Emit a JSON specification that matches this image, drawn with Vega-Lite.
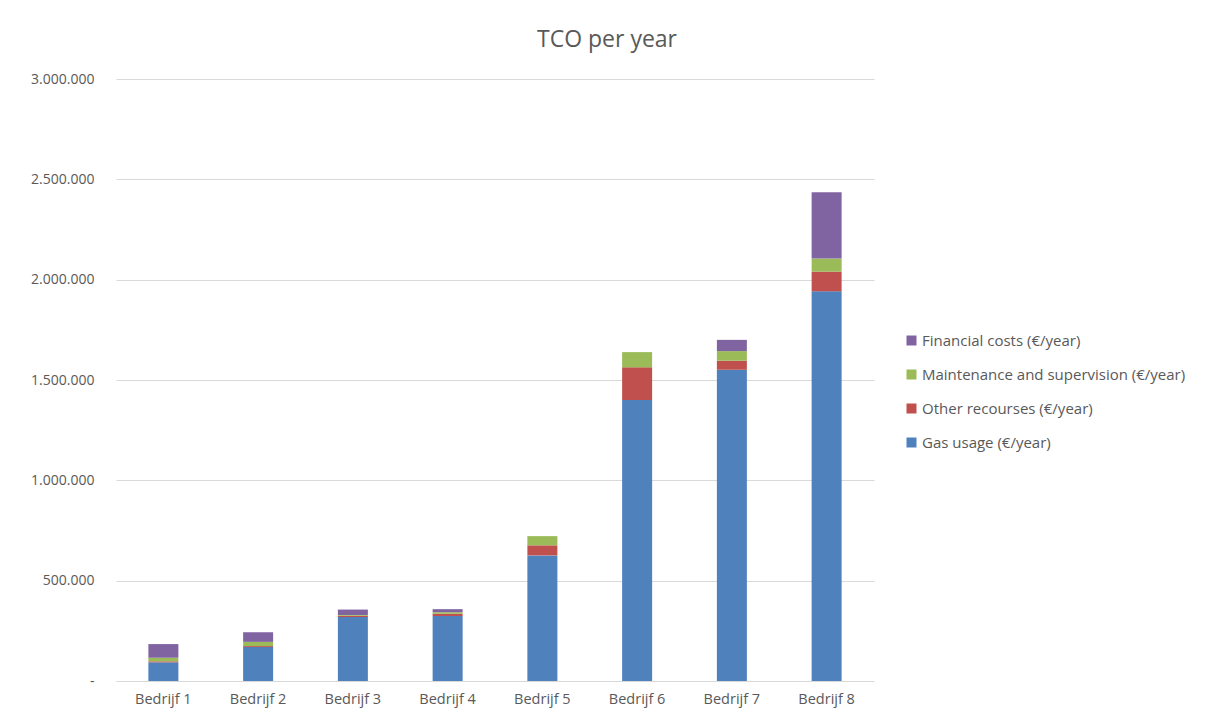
{
  "$schema": "https://vega.github.io/schema/vega-lite/v6.json",
  "autosize": "none",
  "width": 758,
  "height": 602,
  "padding": {"left": 116, "top": 79, "right": 340, "bottom": 38},
  "background": "#ffffff",
  "title": {
    "text": "TCO per year",
    "anchor": "middle",
    "dx": 112,
    "offset": 20,
    "font": "Open Sans",
    "fontSize": 23,
    "fontWeight": "normal",
    "color": "#595959"
  },
  "data": {
    "values": [
      {"bedrijf": "Bedrijf 1", "component": "Gas usage (€/year)", "value": 93000},
      {"bedrijf": "Bedrijf 1", "component": "Other recourses (€/year)", "value": 5000},
      {"bedrijf": "Bedrijf 1", "component": "Maintenance and supervision (€/year)", "value": 18000},
      {"bedrijf": "Bedrijf 1", "component": "Financial costs (€/year)", "value": 68000},
      {"bedrijf": "Bedrijf 2", "component": "Gas usage (€/year)", "value": 169000},
      {"bedrijf": "Bedrijf 2", "component": "Other recourses (€/year)", "value": 5000},
      {"bedrijf": "Bedrijf 2", "component": "Maintenance and supervision (€/year)", "value": 21000},
      {"bedrijf": "Bedrijf 2", "component": "Financial costs (€/year)", "value": 48000},
      {"bedrijf": "Bedrijf 3", "component": "Gas usage (€/year)", "value": 319000},
      {"bedrijf": "Bedrijf 3", "component": "Other recourses (€/year)", "value": 6000},
      {"bedrijf": "Bedrijf 3", "component": "Maintenance and supervision (€/year)", "value": 4000},
      {"bedrijf": "Bedrijf 3", "component": "Financial costs (€/year)", "value": 27000},
      {"bedrijf": "Bedrijf 4", "component": "Gas usage (€/year)", "value": 324000},
      {"bedrijf": "Bedrijf 4", "component": "Other recourses (€/year)", "value": 11000},
      {"bedrijf": "Bedrijf 4", "component": "Maintenance and supervision (€/year)", "value": 8000},
      {"bedrijf": "Bedrijf 4", "component": "Financial costs (€/year)", "value": 15000},
      {"bedrijf": "Bedrijf 5", "component": "Gas usage (€/year)", "value": 626000},
      {"bedrijf": "Bedrijf 5", "component": "Other recourses (€/year)", "value": 50000},
      {"bedrijf": "Bedrijf 5", "component": "Maintenance and supervision (€/year)", "value": 46000},
      {"bedrijf": "Bedrijf 5", "component": "Financial costs (€/year)", "value": 0},
      {"bedrijf": "Bedrijf 6", "component": "Gas usage (€/year)", "value": 1400000},
      {"bedrijf": "Bedrijf 6", "component": "Other recourses (€/year)", "value": 163000},
      {"bedrijf": "Bedrijf 6", "component": "Maintenance and supervision (€/year)", "value": 76000},
      {"bedrijf": "Bedrijf 6", "component": "Financial costs (€/year)", "value": 0},
      {"bedrijf": "Bedrijf 7", "component": "Gas usage (€/year)", "value": 1551000},
      {"bedrijf": "Bedrijf 7", "component": "Other recourses (€/year)", "value": 45000},
      {"bedrijf": "Bedrijf 7", "component": "Maintenance and supervision (€/year)", "value": 48000},
      {"bedrijf": "Bedrijf 7", "component": "Financial costs (€/year)", "value": 56000},
      {"bedrijf": "Bedrijf 8", "component": "Gas usage (€/year)", "value": 1942000},
      {"bedrijf": "Bedrijf 8", "component": "Other recourses (€/year)", "value": 98000},
      {"bedrijf": "Bedrijf 8", "component": "Maintenance and supervision (€/year)", "value": 65000},
      {"bedrijf": "Bedrijf 8", "component": "Financial costs (€/year)", "value": 331000}
    ]
  },
  "transform": [
    {
      "calculate": "indexof(['Gas usage (€/year)', 'Other recourses (€/year)', 'Maintenance and supervision (€/year)', 'Financial costs (€/year)'], datum.component)",
      "as": "stackIndex"
    }
  ],
  "mark": {"type": "bar", "size": 30},
  "encoding": {
    "x": {
      "field": "bedrijf",
      "type": "nominal",
      "sort": null,
      "title": null,
      "axis": {
        "labelAngle": 0,
        "labelFont": "Open Sans",
        "labelFontSize": 14.5,
        "labelColor": "#595959",
        "labelPadding": 11,
        "ticks": false,
        "domainColor": "#D9D9D9",
        "domainWidth": 1
      }
    },
    "y": {
      "field": "value",
      "type": "quantitative",
      "stack": "zero",
      "title": null,
      "scale": {"domain": [0, 3000000], "nice": false},
      "axis": {
        "values": [0, 500000, 1000000, 1500000, 2000000, 2500000, 3000000],
        "labelExpr": "datum.value == 0 ? '-' : join(split(format(datum.value, ','), ','), '.')",
        "labelFont": "Open Sans",
        "labelFontSize": 14,
        "labelColor": "#595959",
        "labelPadding": 22,
        "ticks": false,
        "domain": false,
        "grid": true,
        "gridColor": "#D9D9D9",
        "gridWidth": 1
      }
    },
    "color": {
      "field": "component",
      "type": "nominal",
      "scale": {
        "domain": [
          "Financial costs (€/year)",
          "Maintenance and supervision (€/year)",
          "Other recourses (€/year)",
          "Gas usage (€/year)"
        ],
        "range": ["#8064A2", "#9BBB59", "#C0504D", "#4F81BD"]
      },
      "legend": {
        "title": null,
        "orient": "none",
        "legendX": 788,
        "legendY": 254,
        "symbolType": "square",
        "symbolSize": 100,
        "symbolStrokeWidth": 0,
        "rowPadding": 18,
        "labelFont": "Open Sans",
        "labelFontSize": 15,
        "labelColor": "#595959",
        "labelOffset": 3,
        "labelLimit": 400
      }
    },
    "order": {"field": "stackIndex", "type": "quantitative", "sort": "ascending"}
  },
  "config": {
    "view": {"stroke": null}
  }
}
